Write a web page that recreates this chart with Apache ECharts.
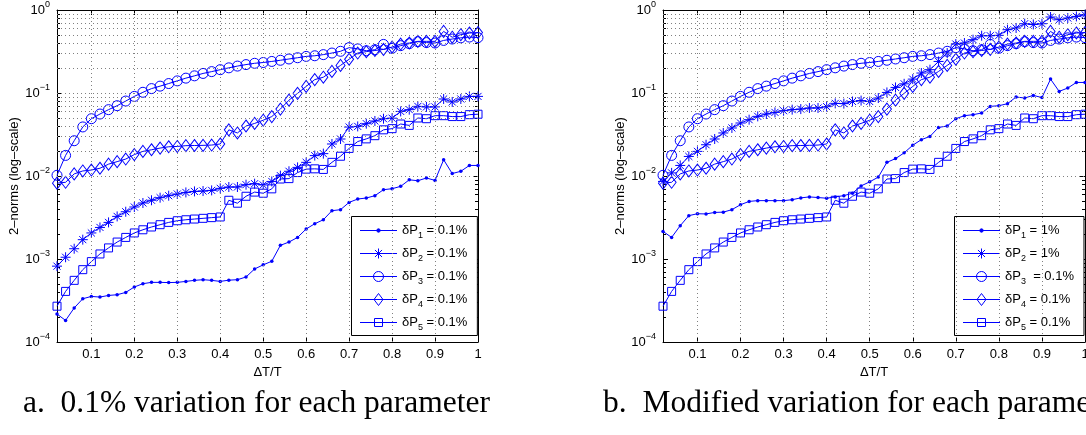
<!DOCTYPE html>
<html>
<head>
<meta charset="utf-8">
<script src="https://cdn.jsdelivr.net/npm/echarts@6/dist/echarts.min.js"></script>
<style>
  html, body { margin: 0; padding: 0; background: #fff; }
  #chart { width: 1086px; height: 435px; }
</style>
</head>
<body>
<div id="chart"></div>
<script>
// Relative time step ΔT/T
const deltaT = [0.02,0.04,0.06,0.08,0.10,0.12,0.14,0.16,0.18,0.20,
                0.22,0.24,0.26,0.28,0.30,0.32,0.34,0.36,0.38,0.40,
                0.42,0.44,0.46,0.48,0.50,0.52,0.54,0.56,0.58,0.60,
                0.62,0.64,0.66,0.68,0.70,0.72,0.74,0.76,0.78,0.80,
                0.82,0.84,0.86,0.88,0.90,0.92,0.94,0.96,0.98,1.00];

// 2-norms, 0.1% variation of P1 and P2
const p1Small = [0.000217,0.000182,0.000257,0.000332,0.000354,0.000348,0.000364,0.000371,0.000396,0.00046,
                 0.000504,0.000523,0.000523,0.00052,0.000523,0.000537,0.000553,0.000563,0.000553,0.000537,
                 0.000556,0.000563,0.000607,0.000759,0.00085,0.00094,0.00146,0.0016,0.00182,0.0023,
                 0.00266,0.00297,0.00382,0.00393,0.00481,0.00528,0.00543,0.00579,0.00684,0.00703,
                 0.0075,0.009,0.00877,0.00946,0.00885,0.0157,0.0107,0.0114,0.0134,0.0134];
const p2Small = [0.00082,0.00105,0.00133,0.00171,0.00206,0.0024,0.00276,0.00326,0.00371,0.00423,
                 0.00473,0.0051,0.00548,0.00579,0.00607,0.00634,0.00652,0.00659,0.00671,0.0071,
                 0.00737,0.00737,0.00786,0.00808,0.0078,0.0086,0.0101,0.0114,0.0127,0.0146,
                 0.0176,0.0186,0.0243,0.0279,0.0389,0.0396,0.0427,0.046,0.049,0.0497,
                 0.06,0.063,0.069,0.068,0.068,0.0847,0.078,0.0847,0.091,0.091];
// 2-norms, 1% variation of P1 and P2
const p1Large = [0.00215,0.00182,0.00252,0.00333,0.00351,0.00349,0.00364,0.00367,0.00393,0.00451,
                 0.00494,0.00505,0.00505,0.00505,0.00505,0.00518,0.00545,0.0056,0.0055,0.0054,
                 0.0056,0.0058,0.0062,0.0076,0.0085,0.0097,0.0146,0.0162,0.019,0.0235,
                 0.0274,0.03,0.0385,0.04,0.049,0.0533,0.0548,0.0574,0.069,0.0703,
                 0.0743,0.0895,0.087,0.0936,0.088,0.147,0.1046,0.1148,0.134,0.134];
const p2Large = [0.0086,0.0109,0.0134,0.0172,0.0198,0.0238,0.0279,0.033,0.0379,0.0435,
                 0.0477,0.0523,0.0558,0.0584,0.0612,0.063,0.064,0.066,0.066,0.0685,
                 0.075,0.0745,0.079,0.081,0.079,0.087,0.1016,0.1167,0.129,0.147,
                 0.174,0.191,0.24,0.303,0.389,0.4,0.439,0.49,0.49,0.495,
                 0.579,0.607,0.684,0.67,0.684,0.823,0.764,0.8,0.837,0.877];
// 2-norms, 0.1% variation of P3, P4, P5 (same in both panels)
const p3Norm = [0.0102,0.0177,0.0266,0.039,0.049,0.0558,0.063,0.0703,0.08,0.091,
                0.102,0.113,0.121,0.13,0.14,0.151,0.161,0.172,0.181,0.191,
                0.201,0.211,0.22,0.228,0.233,0.24,0.248,0.257,0.266,0.276,
                0.281,0.29,0.303,0.318,0.352,0.34,0.323,0.332,0.385,0.345,
                0.372,0.393,0.415,0.405,0.4,0.43,0.447,0.462,0.472,0.465];
const p4Norm = [0.0082,0.0084,0.0106,0.0115,0.0118,0.0124,0.0139,0.0149,0.016,0.0181,
                0.0198,0.0207,0.0217,0.0225,0.0227,0.0232,0.0233,0.0234,0.0236,0.0243,
                0.036,0.033,0.04,0.043,0.047,0.052,0.064,0.082,0.099,0.12,
                0.145,0.155,0.182,0.215,0.255,0.303,0.315,0.325,0.335,0.358,
                0.389,0.4,0.419,0.419,0.419,0.552,0.47,0.504,0.528,0.535];
const p5Norm = [0.00027,0.000407,0.000553,0.000744,0.00093,0.00115,0.00136,0.0016,0.00182,0.00206,
                0.00225,0.00243,0.00259,0.00276,0.00289,0.00297,0.00303,0.00309,0.00315,0.00321,
                0.0051,0.0047,0.0057,0.0064,0.0062,0.007,0.0092,0.0093,0.011,0.0121,
                0.0122,0.012,0.0146,0.0173,0.0215,0.026,0.028,0.0306,0.036,0.0372,
                0.0423,0.0407,0.05,0.049,0.0533,0.0533,0.052,0.052,0.0548,0.0555];

const namesA = ['δP1 = 0.1%', 'δP2 = 0.1%', 'δP3 = 0.1%', 'δP4 = 0.1%', 'δP5 = 0.1%'];
const namesB = ['δP1 = 1%', 'δP2 = 1%', 'δP3  = 0.1%', 'δP4 = 0.1%', 'δP5 = 0.1%'];
const captionA = 'a.  0.1% variation for each parameter';
const captionB = 'b.  Modified variation for each parameter';
const xTicks = [0.1,0.2,0.3,0.4,0.5,0.6,0.7,0.8,0.9,1];
const xGridValues = [0.1,0.2,0.3,0.4,0.5,0.6,0.7,0.8,0.9];
const decades = [-4,-3,-2,-1];
const mantissas = [2,3,4,5,6,7,8,9];

const BLUE = '#0000ff';
const SANS = "'Liberation Sans', Arial, Helvetica, sans-serif";
const SERIF = "'Liberation Serif', 'Times New Roman', serif";
const ASTERISK = 'path://M5,0L5,10M0,5L10,5M1.46,1.46L8.54,8.54M1.46,8.54L8.54,1.46';

// legend keys: a 37px line with the series marker centred on it
const legendKeys = [
  'path://M0,1.7H37 M16.8,1.7a1.7,1.7 0 1,0 3.4,0a1.7,1.7 0 1,0 -3.4,0Z',
  'path://M0,5H37 M18.5,0V10 M13.5,5H23.5 M14.96,1.46L22.04,8.54 M14.96,8.54L22.04,1.46',
  'path://M0,5H37 M13.5,5a5,5 0 1,0 10,0a5,5 0 1,0 -10,0Z',
  'path://M0,6H37 M18.5,0L23,6L18.5,12L14,6Z',
  'path://M0,4H37 M14.5,0H22.5V8H14.5Z'
];

const hollow = { color: 'transparent', borderColor: BLUE, borderWidth: 1 };
const markers = [
  { symbol: 'circle', symbolSize: 3.5, itemStyle: { color: BLUE } },
  { symbol: ASTERISK, symbolSize: 10, itemStyle: hollow },
  { symbol: 'circle', symbolSize: 10, itemStyle: hollow },
  { symbol: 'diamond', symbolSize: [9, 12], itemStyle: hollow },
  { symbol: 'rect', symbolSize: 8, itemStyle: hollow }
];

// dotted grid: major and minor decades plus x grid
const gridLines = [];
xGridValues.forEach(v => gridLines.push({ xAxis: v }));
decades.forEach(d => {
  mantissas.forEach(m => gridLines.push({ yAxis: m * Math.pow(10, d) }));
  if (d > -4) gridLines.push({ yAxis: Math.pow(10, d) });
});
// minor tick positions on a log10 helper axis
const minorLog = [];
decades.forEach(d => mantissas.forEach(m => minorLog.push(d + Math.log10(m))));

const panels = [
  { left: 57, width: 421, names: namesA, values: [p1Small, p2Small, p3Norm, p4Norm, p5Norm], legendLeft: 351.5, caption: captionA, captionLeft: 23 },
  { left: 663, width: 422, names: namesB, values: [p1Large, p2Large, p3Norm, p4Norm, p5Norm], legendLeft: 954.5, caption: captionB, captionLeft: 603 }
];

const grid = [], xAxis = [], yAxis = [], series = [], legend = [], title = [];
const black = { color: '#000', width: 1 };
const supLabel = v => {
  const e = Math.round(Math.log10(v));
  return '10{sup|' + (e < 0 ? '\u2212' + (-e) : e) + '}';
};

panels.forEach((p, g) => {
  grid.push({ left: p.left, top: 10, width: p.width, height: 332, outerBoundsMode: 'none', containLabel: false });
  const xb = xAxis.length;
  const xCommon = { gridIndex: g, type: 'value', min: 0.02, max: 1, splitLine: { show: false },
                    axisLine: { show: true, onZero: false, lineStyle: black } };
  xAxis.push(Object.assign({}, xCommon, {
    position: 'bottom',
    axisTick: { show: true, inside: true, length: 5, lineStyle: black, customValues: xTicks },
    axisLabel: { show: true, customValues: xTicks, margin: 6, color: '#000', fontSize: 13, fontFamily: SANS,
                 formatter: v => String(Math.round(v * 10) / 10) },
    name: 'ΔT/T', nameLocation: 'middle', nameGap: 20,
    nameTextStyle: { color: '#000', fontSize: 13, fontFamily: SANS }
  }));
  xAxis.push(Object.assign({}, xCommon, {
    position: 'top',
    axisTick: { show: true, inside: true, length: 5, lineStyle: black, customValues: xTicks },
    axisLabel: { show: false }
  }));
  const yb = yAxis.length;
  const yCommon = { gridIndex: g, type: 'log', logBase: 10, min: 1e-4, max: 1, splitLine: { show: false },
                    axisLine: { show: true, onZero: false, lineStyle: black },
                    axisTick: { show: true, inside: true, length: 5, lineStyle: black } };
  yAxis.push(Object.assign({}, yCommon, {
    position: 'left',
    axisLabel: { show: true, margin: 7, color: '#000', fontSize: 13, fontFamily: SANS, lineHeight: 20,
                 formatter: supLabel,
                 rich: { sup: { fontSize: 9, fontFamily: SANS, color: '#000', verticalAlign: 'top', lineHeight: 20 } } },
    name: '2–norms (log–scale)', nameLocation: 'middle', nameRotate: 90, nameGap: 31,
    nameTextStyle: { color: '#000', fontSize: 13, fontFamily: SANS }
  }));
  yAxis.push(Object.assign({}, yCommon, { position: 'right', axisLabel: { show: false } }));
  ['left', 'right'].forEach(pos => yAxis.push({
    gridIndex: g, type: 'value', min: -4, max: 0, position: pos, splitLine: { show: false },
    axisLine: { show: false },
    axisTick: { show: true, inside: true, length: 3, lineStyle: black, customValues: minorLog },
    axisLabel: { show: false }
  }));

  series.push({
    type: 'line', xAxisIndex: xb, yAxisIndex: yb, data: [], silent: true, z: 1,
    markLine: { silent: true, symbol: ['none', 'none'], label: { show: false }, animation: false,
                emphasis: { disabled: true },
                lineStyle: { color: '#808080', width: 1, type: [1, 3] }, data: gridLines }
  });
  p.names.forEach((name, i) => {
    series.push(Object.assign({
      type: 'line', name: name, xAxisIndex: xb, yAxisIndex: yb, z: 3,
      showAllSymbol: true, animation: false, emphasis: { disabled: true },
      lineStyle: { color: BLUE, width: 1 },
      data: deltaT.map((t, k) => [t, p.values[i][k]])
    }, markers[i]));
  });

  legend.push({
    data: p.names.map((n, i) => ({
      name: n, icon: legendKeys[i],
      itemStyle: { color: i === 0 ? BLUE : 'transparent', borderColor: BLUE, borderWidth: 1 }
    })),
    orient: 'vertical', left: p.legendLeft, top: 216.5,
    itemWidth: 37, itemHeight: 12, itemGap: 3, selectedMode: false, symbolKeepAspect: true,
    backgroundColor: '#fff', borderColor: '#000', borderWidth: 1, borderRadius: 0,
    padding: [4, 10, 3, 8],
    textStyle: { color: '#000', fontSize: 13, fontFamily: SANS, lineHeight: 20,
                 rich: { sub: { fontSize: 9, fontFamily: SANS, color: '#000', verticalAlign: 'bottom', lineHeight: 20 } } },
    formatter: n => n.replace(/P(\d)/, 'P{sub|$1}')
  });

  title.push({ text: p.caption, left: p.captionLeft, top: 388, padding: 0,
               textStyle: { color: '#000', fontSize: 31.5, fontWeight: 'normal', fontFamily: SERIF } });
});

const chart = echarts.init(document.getElementById('chart'));
chart.setOption({ animation: false, backgroundColor: '#fff', title, grid, xAxis, yAxis, legend, series });
</script>
</body>
</html>
